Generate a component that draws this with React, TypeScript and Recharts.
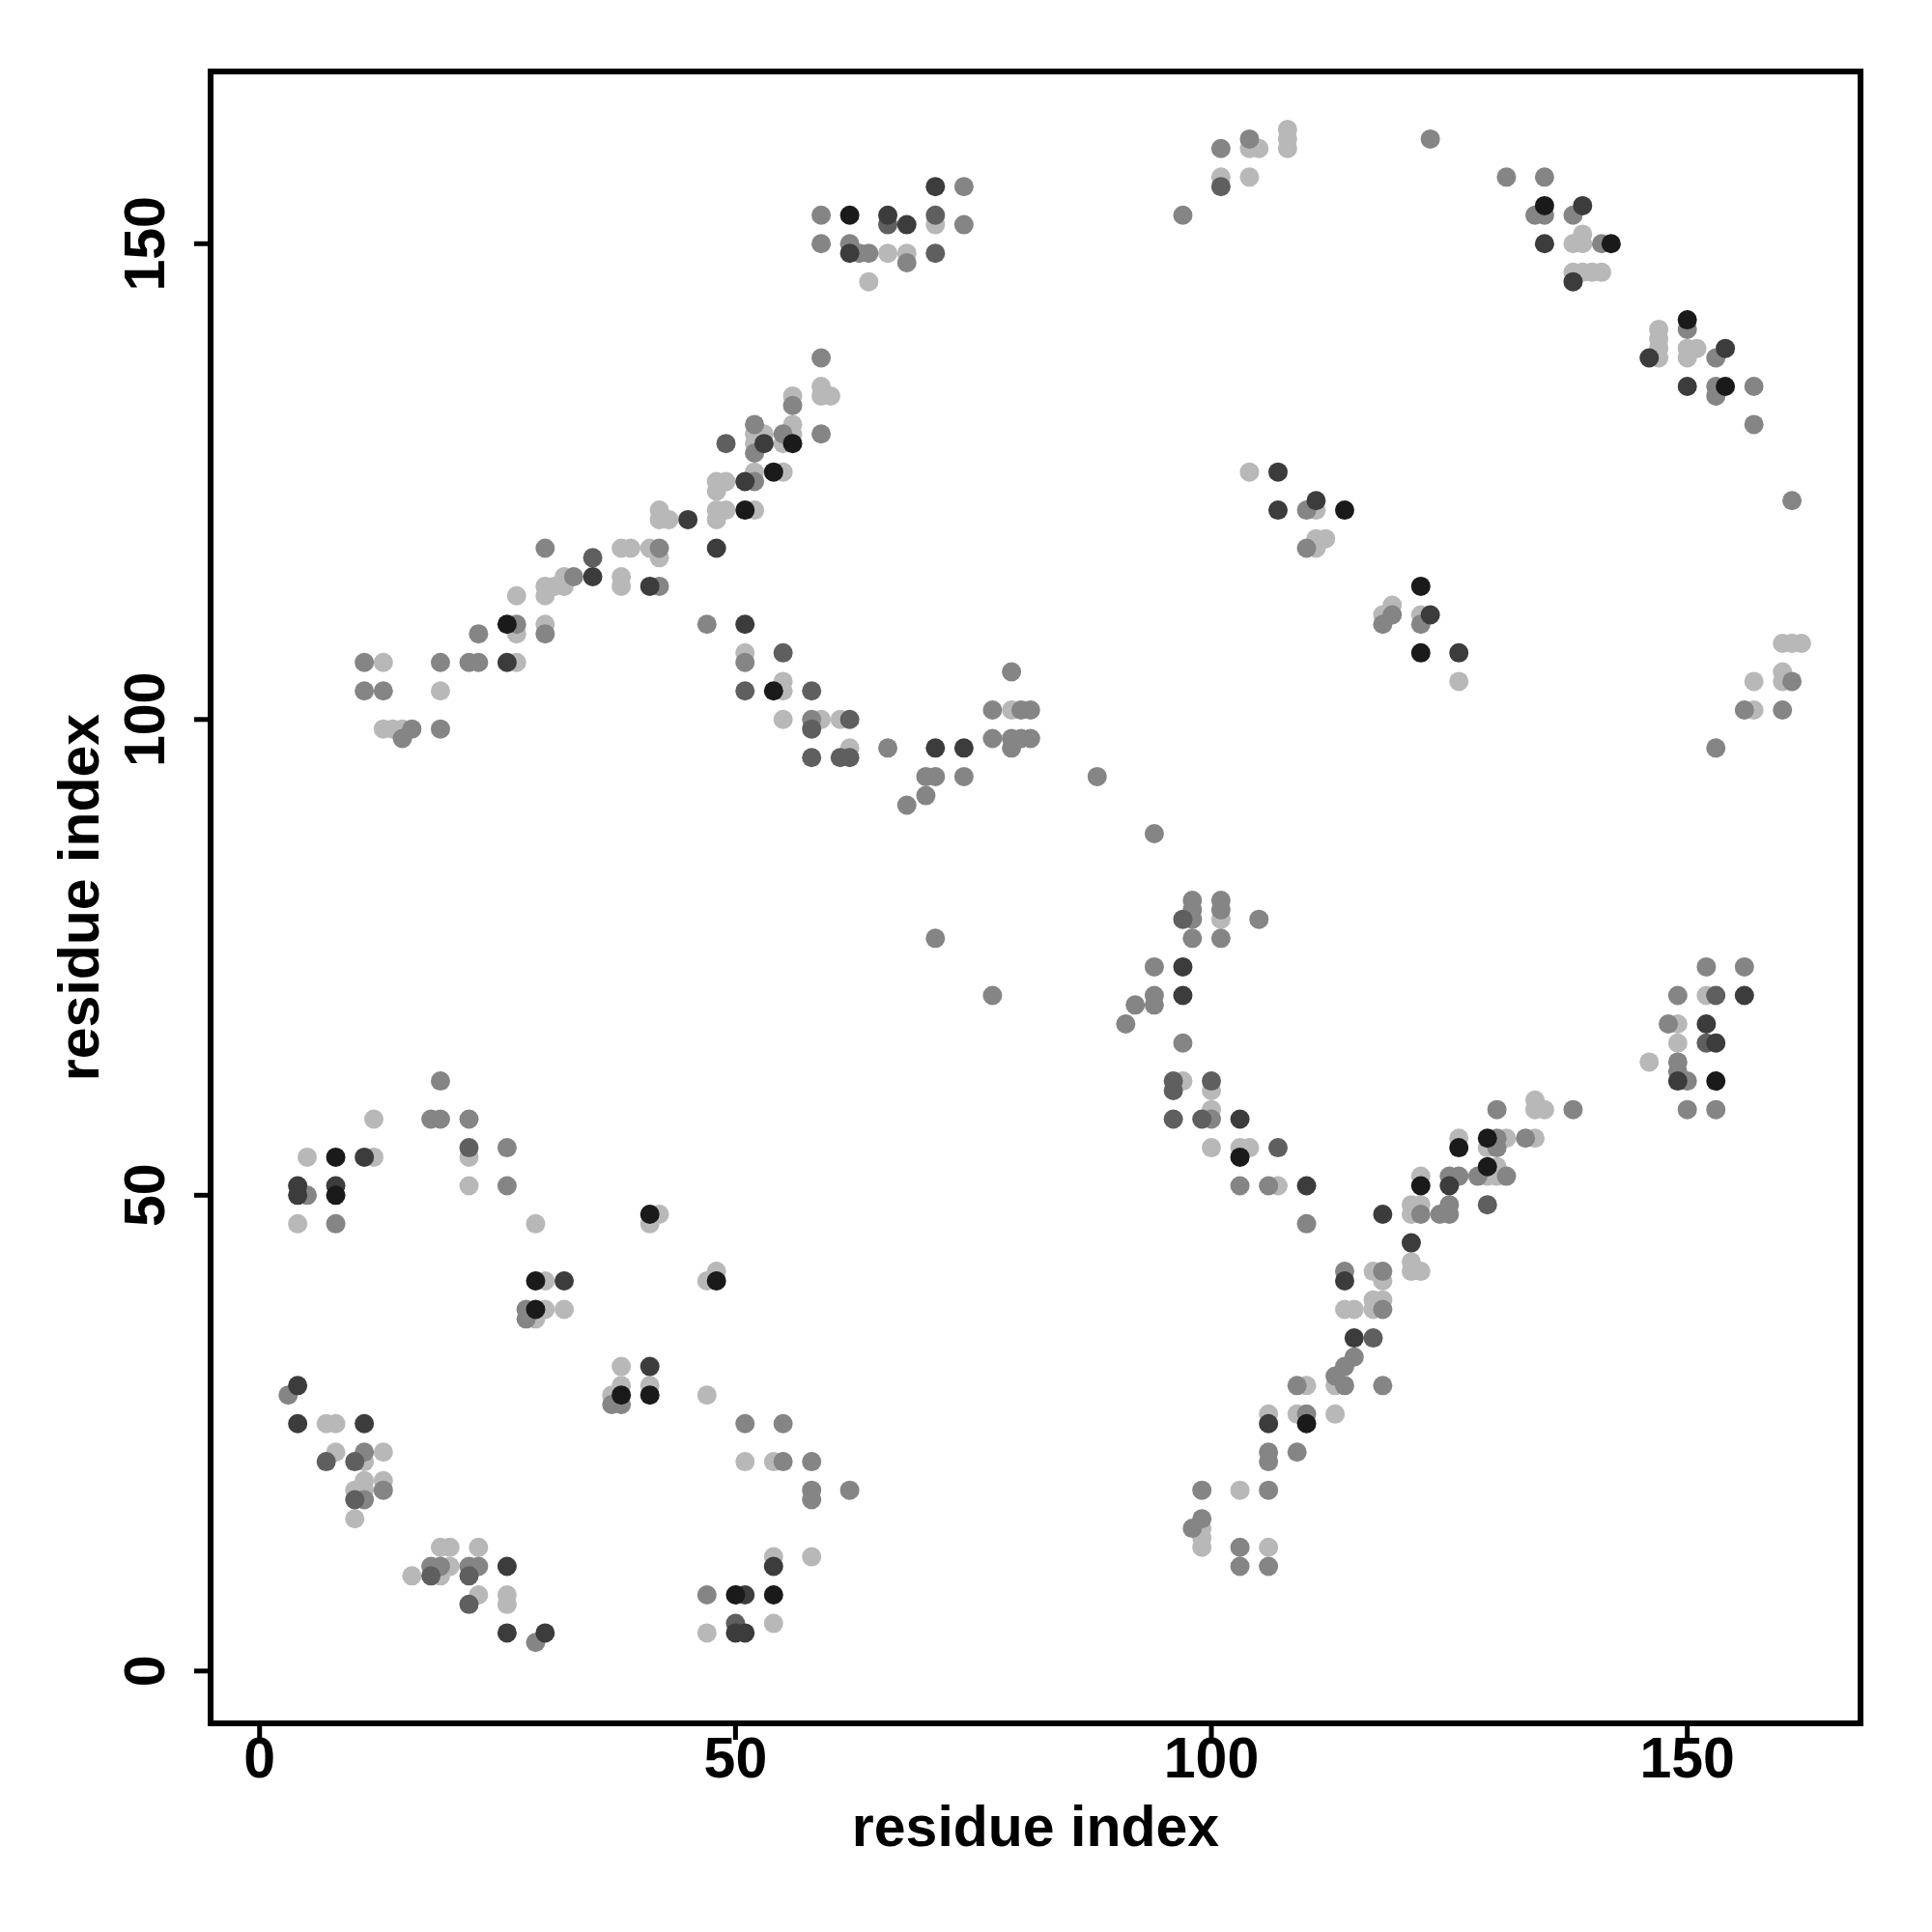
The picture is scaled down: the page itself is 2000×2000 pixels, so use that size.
import { ScatterChart, Scatter, XAxis, YAxis, Label, ReferenceArea } from 'recharts';

type Pt = [number, number];

// contact pairs (residue i, residue j), grouped by grey level
const blackPts: Pt[] = [
  [8, 50], [29, 41], [29, 38], [38, 29], [8, 54], [26, 110], [41, 48], [48, 41], [41, 29], [50, 8], [54, 8],
  [54, 103], [62, 153], [56, 129], [54, 126], [51, 122], [103, 54], [122, 107], [122, 51], [110, 26], [126, 55],
  [129, 56], [129, 53], [153, 62], [114, 122], [122, 114], [135, 154], [142, 150], [150, 142], [154, 135],
];

const darkPts: Pt[] = [
  [4, 51], [4, 50], [8, 51], [32, 41], [4, 30], [4, 26], [11, 26], [26, 11], [26, 4], [30, 4], [41, 32], [54, 11],
  [51, 8], [50, 4], [51, 4], [11, 54], [26, 106], [51, 110], [71, 97], [74, 97], [71, 156], [66, 153], [68, 152],
  [62, 149], [53, 129], [51, 125], [45, 121], [41, 114], [48, 118], [35, 115], [97, 74], [97, 71], [103, 58],
  [110, 51], [118, 48], [125, 51], [121, 45], [114, 41], [115, 35], [106, 26], [126, 107], [156, 71], [152, 68],
  [153, 66], [149, 62], [107, 126], [107, 122], [111, 123], [123, 111], [139, 154], [135, 150], [138, 146],
  [146, 138], [154, 139], [150, 135],
];

const greyPts: Pt[] = [
  [7, 22], [10, 22], [10, 18], [18, 10], [22, 10], [22, 7], [50, 5], [22, 55], [55, 107], [51, 103], [58, 103],
  [58, 99], [62, 100], [58, 96], [61, 96], [62, 96], [66, 152], [71, 153], [71, 149], [49, 129], [35, 117],
  [97, 79], [96, 62], [96, 61], [100, 62], [96, 58], [99, 58], [107, 55], [117, 35], [129, 49], [153, 71],
  [152, 66], [101, 156],
];

const midPts: Pt[] = [
  [5, 50], [8, 47], [26, 51], [28, 38], [28, 37], [37, 28], [38, 28], [3, 29], [11, 23], [11, 18], [13, 19],
  [19, 11], [18, 11], [22, 11], [23, 11], [29, 3],
  [51, 26], [55, 26], [55, 22], [58, 22], [58, 19], [58, 18], [62, 19], [47, 8],
  [103, 51], [106, 51], [110, 47], [122, 48], [124, 48], [125, 49], [125, 48], [125, 52], [114, 42], [118, 42],
  [118, 38], [115, 33], [114, 32], [113, 31], [114, 30], [109, 30], [118, 30], [110, 27], [106, 23], [106, 22],
  [109, 23], [99, 19], [106, 19], [99, 16], [98, 15], [103, 13], [103, 11], [106, 11],
  [126, 52], [128, 52], [131, 52],
  [161, 104], [156, 101], [160, 101], [153, 97], [152, 74], [156, 74], [149, 71], [148, 68], [149, 64], [149, 63],
  [150, 62], [150, 59], [153, 59], [130, 59], [138, 59], [130, 56], [133, 56], [130, 55],
  [88, 94], [94, 88], [98, 81], [98, 80], [98, 79], [101, 81], [101, 80], [105, 79], [98, 77], [101, 77], [94, 74],
  [94, 71], [94, 70], [92, 70], [91, 68], [97, 66], [100, 58],
  [47, 110], [51, 106], [58, 100], [66, 97], [70, 94], [71, 94], [74, 94], [70, 92], [68, 91], [79, 105], [77, 101],
  [80, 101], [81, 101], [77, 98], [79, 98], [80, 98], [81, 98], [79, 97], [71, 77], [77, 71],
  [27, 110], [30, 109], [23, 109], [11, 106], [19, 106], [22, 106], [23, 106], [11, 103], [13, 103], [16, 99],
  [15, 98], [19, 99], [19, 62], [18, 58], [19, 58], [22, 58], [26, 55],
  [74, 156], [59, 153], [74, 152], [59, 150], [62, 150], [63, 149], [64, 149], [68, 148], [59, 138], [56, 133],
  [59, 130], [52, 131], [52, 128], [55, 130], [52, 125], [42, 118], [42, 114], [30, 118], [33, 115],
  [104, 161], [101, 160], [97, 153], [123, 161], [110, 122], [110, 118], [119, 111], [118, 110], [122, 110],
  [131, 157], [135, 157], [134, 153], [135, 153], [138, 153], [141, 150], [150, 141], [153, 138], [153, 135],
  [153, 134], [157, 135], [157, 131], [161, 123],
];

const lightPts: Pt[] = [
  [4, 47], [22, 51], [29, 47], [30, 41], [30, 38], [32, 38], [29, 37], [38, 32], [38, 30], [37, 29], [7, 26],
  [8, 26], [8, 23], [11, 22], [13, 23], [10, 19], [11, 20], [11, 19], [13, 20], [10, 16], [16, 10], [19, 13],
  [20, 13], [19, 10], [20, 11], [23, 13], [23, 8], [26, 8], [26, 7],
  [42, 48], [41, 47], [48, 42], [47, 41], [41, 30], [47, 29], [51, 22], [54, 22], [54, 12], [58, 12], [47, 4], [54, 5],
  [107, 51], [122, 52], [121, 49], [122, 49], [121, 48], [121, 43], [122, 42], [121, 42], [117, 42], [118, 41],
  [114, 38], [115, 38], [117, 39], [118, 39], [117, 38], [113, 30], [110, 30], [113, 27], [106, 27], [109, 27],
  [103, 19], [99, 15], [99, 14], [99, 13], [106, 13], [129, 52], [130, 52],
  [126, 104], [160, 108], [161, 108], [162, 108], [157, 104], [160, 105], [160, 104], [157, 101], [152, 71],
  [149, 68], [149, 66], [146, 64], [134, 60], [134, 59], [135, 59], [126, 56], [131, 56], [134, 56], [129, 55],
  [130, 53],
  [101, 79], [97, 62], [100, 61], [100, 59], [100, 55], [103, 55], [104, 55],
  [51, 107], [55, 104], [55, 103], [55, 100], [59, 100], [61, 100], [62, 97], [79, 101],
  [27, 109], [30, 110], [13, 106], [27, 106], [19, 103], [13, 99], [14, 99], [15, 99], [12, 58], [22, 54], [5, 54],
  [12, 54],
  [71, 152], [66, 149], [68, 149], [64, 146], [59, 135], [60, 134], [59, 134], [56, 134], [52, 130], [52, 129],
  [53, 130], [56, 131], [56, 130], [55, 129], [52, 126], [55, 126], [48, 125], [49, 125], [48, 124], [52, 122],
  [48, 122], [49, 122], [48, 121], [42, 122], [43, 121], [42, 121], [42, 117], [41, 118], [38, 118], [38, 115],
  [39, 118], [38, 114], [32, 115], [31, 114], [30, 114], [30, 113], [32, 114], [27, 113],
  [108, 162], [108, 161], [108, 160], [104, 160], [105, 160], [101, 157], [104, 157], [104, 126], [111, 122],
  [111, 118], [111, 119], [112, 119], [119, 112], [118, 111], [122, 111],
  [138, 150], [139, 151], [139, 150], [138, 147], [139, 147], [140, 147], [141, 147], [147, 141], [147, 140],
  [147, 139], [147, 138], [150, 139], [151, 139], [150, 138],
];

const axisTicks = [0, 50, 100, 150];
const xTitle = 'residue index';
const yTitle = 'residue index';

const X_DOMAIN: [number, number] = [-5.15, 168.2];
const Y_DOMAIN: [number, number] = [-5.5, 168.1];

const FONT = "'Liberation Sans', Arial, Helvetica, sans-serif";
const FONT_SIZE = 59;

const series = [
  { name: 'light', fill: '#b8b8b8', pts: lightPts },
  { name: 'mid', fill: '#858585', pts: midPts },
  { name: 'grey', fill: '#5f5f5f', pts: greyPts },
  { name: 'dark', fill: '#3c3c3c', pts: darkPts },
  { name: 'black', fill: '#1a1a1a', pts: blackPts },
];

const toRows = (pts: Pt[]) => pts.map(([x, y]) => ({ x, y }));

const dot = (fill: string) => (p: any) => <circle cx={p.cx} cy={p.cy} r={10} fill={fill} />;

const tickStroke = { stroke: '#000', strokeWidth: 5 };

const XTick = (p: any) => (
  <text x={p.x} y={p.y} textAnchor="middle" fontFamily={FONT} fontWeight="bold" fontSize={FONT_SIZE} fill="#000">
    {p.payload.value}
  </text>
);

const YTick = (p: any) => (
  <text
    transform={`translate(${p.x},${p.y}) rotate(-90)`}
    textAnchor="middle"
    fontFamily={FONT}
    fontWeight="bold"
    fontSize={FONT_SIZE}
    fill="#000"
  >
    {p.payload.value}
  </text>
);

const XTitle = (p: any) => {
  const vb = p.viewBox || { x: 218, y: 1784, width: 1708, height: 100 };
  return (
    <text x={vb.x + vb.width / 2} y={vb.y + 127} textAnchor="middle" fontFamily={FONT} fontWeight="bold" fontSize={FONT_SIZE} fill="#000">
      {xTitle}
    </text>
  );
};

const YTitle = (p: any) => {
  const vb = p.viewBox || { x: 68, y: 74, width: 150, height: 1710 };
  return (
    <text
      transform={`translate(${vb.x + 34},${vb.y + vb.height / 2}) rotate(-90)`}
      textAnchor="middle"
      fontFamily={FONT}
      fontWeight="bold"
      fontSize={FONT_SIZE}
      fill="#000"
    >
      {yTitle}
    </text>
  );
};

export default function App() {
  return (
    <div style={{ position: 'absolute', left: 0, top: 0, width: 2000, height: 2000, background: '#fff' }}>
      <ScatterChart width={2000} height={2000} margin={{ top: 74, right: 74, bottom: 116, left: 68 }}>
        <XAxis
          type="number"
          dataKey="x"
          domain={X_DOMAIN}
          allowDataOverflow
          ticks={axisTicks}
          interval={0}
          height={100}
          tickSize={17}
          tickMargin={39}
          stroke="#000"
          strokeWidth={5}
          axisLine={false}
          tickLine={tickStroke}
          tick={XTick}
        >
          <Label content={XTitle} />
        </XAxis>
        <YAxis
          type="number"
          dataKey="y"
          domain={Y_DOMAIN}
          allowDataOverflow
          ticks={axisTicks}
          interval={0}
          width={150}
          tickSize={17}
          tickMargin={31}
          stroke="#000"
          strokeWidth={5}
          axisLine={false}
          tickLine={tickStroke}
          tick={YTick}
        >
          <Label content={YTitle} />
        </YAxis>
        {series.map((s) => (
          <Scatter key={s.name} name={s.name} data={toRows(s.pts)} fill={s.fill} shape={dot(s.fill)} isAnimationActive={false} />
        ))}
        {/* plot frame */}
        <ReferenceArea
          x1={X_DOMAIN[0]}
          x2={X_DOMAIN[1]}
          y1={Y_DOMAIN[0]}
          y2={Y_DOMAIN[1]}
          fill="none"
          fillOpacity={0}
          stroke="#000"
          strokeWidth={6}
          strokeOpacity={1}
          ifOverflow="visible"
        />
      </ScatterChart>
    </div>
  );
}
